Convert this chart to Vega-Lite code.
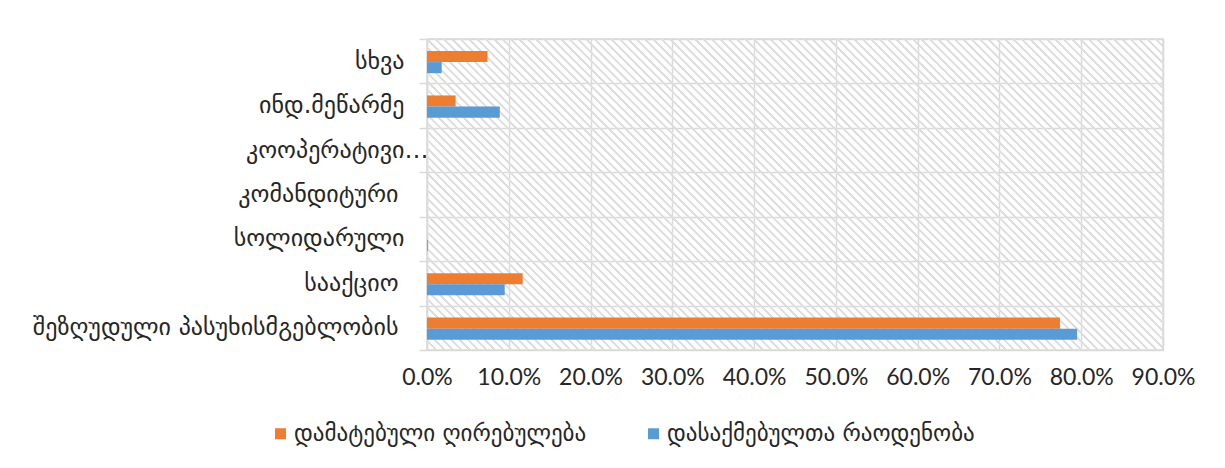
{
  "$schema": "https://vega.github.io/schema/vega-lite/v6.json",
  "width": 736,
  "height": 311,
  "autosize": "none",
  "padding": {"left": 427, "top": 39, "right": 62, "bottom": 118},
  "background": "white",
  "config": {
    "view": {"stroke": "#d9d9d9", "strokeWidth": 1.5, "fill": "white"},
    "axisX": {"title": null, "grid": true, "gridColor": "#d9d9d9", "gridWidth": 1.5, "domain": false, "ticks": false, "labelFont": "Lato", "labelFontSize": 23, "labelColor": "#262626", "labelPadding": 16, "labelFlush": false},
    "legend": {"labelFont": "DejaVu Sans", "labelFontSize": 23, "labelColor": "#262626", "labelLimit": 600}
  },
  "layer": [
    {
      "data": {"values": [{}]},
      "mark": {
        "type": "rect",
        "fill": {
          "gradient": "linear",
          "x1": 0, "y1": 1, "x2": 1.207, "y2": 0.49,
          "stops": [
{"offset":0.000,"color":"#ddd"},{"offset":0.002,"color":"#ddd"},{"offset":0.003,"color":"#fff0"},{"offset":0.007,"color":"#fff0"},
{"offset":0.008,"color":"#ddd"},{"offset":0.010,"color":"#ddd"},{"offset":0.011,"color":"#fff0"},{"offset":0.015,"color":"#fff0"},
{"offset":0.016,"color":"#ddd"},{"offset":0.018,"color":"#ddd"},{"offset":0.019,"color":"#fff0"},{"offset":0.023,"color":"#fff0"},
{"offset":0.024,"color":"#ddd"},{"offset":0.026,"color":"#ddd"},{"offset":0.027,"color":"#fff0"},{"offset":0.031,"color":"#fff0"},
{"offset":0.032,"color":"#ddd"},{"offset":0.034,"color":"#ddd"},{"offset":0.035,"color":"#fff0"},{"offset":0.039,"color":"#fff0"},
{"offset":0.040,"color":"#ddd"},{"offset":0.042,"color":"#ddd"},{"offset":0.043,"color":"#fff0"},{"offset":0.047,"color":"#fff0"},
{"offset":0.048,"color":"#ddd"},{"offset":0.050,"color":"#ddd"},{"offset":0.051,"color":"#fff0"},{"offset":0.055,"color":"#fff0"},
{"offset":0.056,"color":"#ddd"},{"offset":0.058,"color":"#ddd"},{"offset":0.059,"color":"#fff0"},{"offset":0.063,"color":"#fff0"},
{"offset":0.064,"color":"#ddd"},{"offset":0.066,"color":"#ddd"},{"offset":0.067,"color":"#fff0"},{"offset":0.071,"color":"#fff0"},
{"offset":0.072,"color":"#ddd"},{"offset":0.074,"color":"#ddd"},{"offset":0.075,"color":"#fff0"},{"offset":0.079,"color":"#fff0"},
{"offset":0.080,"color":"#ddd"},{"offset":0.082,"color":"#ddd"},{"offset":0.083,"color":"#fff0"},{"offset":0.087,"color":"#fff0"},
{"offset":0.088,"color":"#ddd"},{"offset":0.090,"color":"#ddd"},{"offset":0.091,"color":"#fff0"},{"offset":0.095,"color":"#fff0"},
{"offset":0.096,"color":"#ddd"},{"offset":0.098,"color":"#ddd"},{"offset":0.099,"color":"#fff0"},{"offset":0.103,"color":"#fff0"},
{"offset":0.104,"color":"#ddd"},{"offset":0.106,"color":"#ddd"},{"offset":0.107,"color":"#fff0"},{"offset":0.111,"color":"#fff0"},
{"offset":0.112,"color":"#ddd"},{"offset":0.114,"color":"#ddd"},{"offset":0.115,"color":"#fff0"},{"offset":0.119,"color":"#fff0"},
{"offset":0.120,"color":"#ddd"},{"offset":0.122,"color":"#ddd"},{"offset":0.123,"color":"#fff0"},{"offset":0.127,"color":"#fff0"},
{"offset":0.128,"color":"#ddd"},{"offset":0.130,"color":"#ddd"},{"offset":0.131,"color":"#fff0"},{"offset":0.135,"color":"#fff0"},
{"offset":0.136,"color":"#ddd"},{"offset":0.138,"color":"#ddd"},{"offset":0.139,"color":"#fff0"},{"offset":0.143,"color":"#fff0"},
{"offset":0.144,"color":"#ddd"},{"offset":0.146,"color":"#ddd"},{"offset":0.147,"color":"#fff0"},{"offset":0.151,"color":"#fff0"},
{"offset":0.152,"color":"#ddd"},{"offset":0.154,"color":"#ddd"},{"offset":0.155,"color":"#fff0"},{"offset":0.159,"color":"#fff0"},
{"offset":0.160,"color":"#ddd"},{"offset":0.162,"color":"#ddd"},{"offset":0.163,"color":"#fff0"},{"offset":0.167,"color":"#fff0"},
{"offset":0.168,"color":"#ddd"},{"offset":0.170,"color":"#ddd"},{"offset":0.171,"color":"#fff0"},{"offset":0.175,"color":"#fff0"},
{"offset":0.176,"color":"#ddd"},{"offset":0.178,"color":"#ddd"},{"offset":0.179,"color":"#fff0"},{"offset":0.183,"color":"#fff0"},
{"offset":0.184,"color":"#ddd"},{"offset":0.186,"color":"#ddd"},{"offset":0.187,"color":"#fff0"},{"offset":0.191,"color":"#fff0"},
{"offset":0.192,"color":"#ddd"},{"offset":0.194,"color":"#ddd"},{"offset":0.195,"color":"#fff0"},{"offset":0.199,"color":"#fff0"},
{"offset":0.200,"color":"#ddd"},{"offset":0.202,"color":"#ddd"},{"offset":0.203,"color":"#fff0"},{"offset":0.207,"color":"#fff0"},
{"offset":0.208,"color":"#ddd"},{"offset":0.210,"color":"#ddd"},{"offset":0.211,"color":"#fff0"},{"offset":0.215,"color":"#fff0"},
{"offset":0.216,"color":"#ddd"},{"offset":0.218,"color":"#ddd"},{"offset":0.219,"color":"#fff0"},{"offset":0.223,"color":"#fff0"},
{"offset":0.224,"color":"#ddd"},{"offset":0.226,"color":"#ddd"},{"offset":0.227,"color":"#fff0"},{"offset":0.231,"color":"#fff0"},
{"offset":0.232,"color":"#ddd"},{"offset":0.234,"color":"#ddd"},{"offset":0.235,"color":"#fff0"},{"offset":0.239,"color":"#fff0"},
{"offset":0.240,"color":"#ddd"},{"offset":0.242,"color":"#ddd"},{"offset":0.243,"color":"#fff0"},{"offset":0.247,"color":"#fff0"},
{"offset":0.248,"color":"#ddd"},{"offset":0.250,"color":"#ddd"},{"offset":0.251,"color":"#fff0"},{"offset":0.255,"color":"#fff0"},
{"offset":0.256,"color":"#ddd"},{"offset":0.258,"color":"#ddd"},{"offset":0.259,"color":"#fff0"},{"offset":0.263,"color":"#fff0"},
{"offset":0.264,"color":"#ddd"},{"offset":0.266,"color":"#ddd"},{"offset":0.267,"color":"#fff0"},{"offset":0.271,"color":"#fff0"},
{"offset":0.272,"color":"#ddd"},{"offset":0.274,"color":"#ddd"},{"offset":0.275,"color":"#fff0"},{"offset":0.279,"color":"#fff0"},
{"offset":0.280,"color":"#ddd"},{"offset":0.282,"color":"#ddd"},{"offset":0.283,"color":"#fff0"},{"offset":0.287,"color":"#fff0"},
{"offset":0.288,"color":"#ddd"},{"offset":0.290,"color":"#ddd"},{"offset":0.291,"color":"#fff0"},{"offset":0.295,"color":"#fff0"},
{"offset":0.296,"color":"#ddd"},{"offset":0.298,"color":"#ddd"},{"offset":0.299,"color":"#fff0"},{"offset":0.303,"color":"#fff0"},
{"offset":0.304,"color":"#ddd"},{"offset":0.306,"color":"#ddd"},{"offset":0.307,"color":"#fff0"},{"offset":0.311,"color":"#fff0"},
{"offset":0.312,"color":"#ddd"},{"offset":0.314,"color":"#ddd"},{"offset":0.315,"color":"#fff0"},{"offset":0.319,"color":"#fff0"},
{"offset":0.320,"color":"#ddd"},{"offset":0.322,"color":"#ddd"},{"offset":0.323,"color":"#fff0"},{"offset":0.327,"color":"#fff0"},
{"offset":0.328,"color":"#ddd"},{"offset":0.330,"color":"#ddd"},{"offset":0.331,"color":"#fff0"},{"offset":0.335,"color":"#fff0"},
{"offset":0.336,"color":"#ddd"},{"offset":0.338,"color":"#ddd"},{"offset":0.339,"color":"#fff0"},{"offset":0.343,"color":"#fff0"},
{"offset":0.344,"color":"#ddd"},{"offset":0.346,"color":"#ddd"},{"offset":0.347,"color":"#fff0"},{"offset":0.351,"color":"#fff0"},
{"offset":0.352,"color":"#ddd"},{"offset":0.354,"color":"#ddd"},{"offset":0.355,"color":"#fff0"},{"offset":0.359,"color":"#fff0"},
{"offset":0.360,"color":"#ddd"},{"offset":0.362,"color":"#ddd"},{"offset":0.363,"color":"#fff0"},{"offset":0.367,"color":"#fff0"},
{"offset":0.368,"color":"#ddd"},{"offset":0.370,"color":"#ddd"},{"offset":0.371,"color":"#fff0"},{"offset":0.375,"color":"#fff0"},
{"offset":0.376,"color":"#ddd"},{"offset":0.378,"color":"#ddd"},{"offset":0.379,"color":"#fff0"},{"offset":0.383,"color":"#fff0"},
{"offset":0.384,"color":"#ddd"},{"offset":0.386,"color":"#ddd"},{"offset":0.387,"color":"#fff0"},{"offset":0.391,"color":"#fff0"},
{"offset":0.392,"color":"#ddd"},{"offset":0.394,"color":"#ddd"},{"offset":0.395,"color":"#fff0"},{"offset":0.399,"color":"#fff0"},
{"offset":0.400,"color":"#ddd"},{"offset":0.402,"color":"#ddd"},{"offset":0.403,"color":"#fff0"},{"offset":0.407,"color":"#fff0"},
{"offset":0.408,"color":"#ddd"},{"offset":0.410,"color":"#ddd"},{"offset":0.411,"color":"#fff0"},{"offset":0.415,"color":"#fff0"},
{"offset":0.416,"color":"#ddd"},{"offset":0.418,"color":"#ddd"},{"offset":0.419,"color":"#fff0"},{"offset":0.423,"color":"#fff0"},
{"offset":0.424,"color":"#ddd"},{"offset":0.426,"color":"#ddd"},{"offset":0.427,"color":"#fff0"},{"offset":0.431,"color":"#fff0"},
{"offset":0.432,"color":"#ddd"},{"offset":0.434,"color":"#ddd"},{"offset":0.435,"color":"#fff0"},{"offset":0.439,"color":"#fff0"},
{"offset":0.440,"color":"#ddd"},{"offset":0.442,"color":"#ddd"},{"offset":0.443,"color":"#fff0"},{"offset":0.447,"color":"#fff0"},
{"offset":0.448,"color":"#ddd"},{"offset":0.450,"color":"#ddd"},{"offset":0.451,"color":"#fff0"},{"offset":0.455,"color":"#fff0"},
{"offset":0.456,"color":"#ddd"},{"offset":0.458,"color":"#ddd"},{"offset":0.459,"color":"#fff0"},{"offset":0.463,"color":"#fff0"},
{"offset":0.464,"color":"#ddd"},{"offset":0.466,"color":"#ddd"},{"offset":0.467,"color":"#fff0"},{"offset":0.471,"color":"#fff0"},
{"offset":0.472,"color":"#ddd"},{"offset":0.474,"color":"#ddd"},{"offset":0.475,"color":"#fff0"},{"offset":0.479,"color":"#fff0"},
{"offset":0.480,"color":"#ddd"},{"offset":0.482,"color":"#ddd"},{"offset":0.483,"color":"#fff0"},{"offset":0.487,"color":"#fff0"},
{"offset":0.488,"color":"#ddd"},{"offset":0.490,"color":"#ddd"},{"offset":0.491,"color":"#fff0"},{"offset":0.495,"color":"#fff0"},
{"offset":0.496,"color":"#ddd"},{"offset":0.498,"color":"#ddd"},{"offset":0.499,"color":"#fff0"},{"offset":0.503,"color":"#fff0"},
{"offset":0.504,"color":"#ddd"},{"offset":0.506,"color":"#ddd"},{"offset":0.507,"color":"#fff0"},{"offset":0.511,"color":"#fff0"},
{"offset":0.512,"color":"#ddd"},{"offset":0.514,"color":"#ddd"},{"offset":0.515,"color":"#fff0"},{"offset":0.519,"color":"#fff0"},
{"offset":0.520,"color":"#ddd"},{"offset":0.522,"color":"#ddd"},{"offset":0.523,"color":"#fff0"},{"offset":0.527,"color":"#fff0"},
{"offset":0.528,"color":"#ddd"},{"offset":0.530,"color":"#ddd"},{"offset":0.531,"color":"#fff0"},{"offset":0.535,"color":"#fff0"},
{"offset":0.536,"color":"#ddd"},{"offset":0.538,"color":"#ddd"},{"offset":0.539,"color":"#fff0"},{"offset":0.543,"color":"#fff0"},
{"offset":0.544,"color":"#ddd"},{"offset":0.546,"color":"#ddd"},{"offset":0.547,"color":"#fff0"},{"offset":0.551,"color":"#fff0"},
{"offset":0.552,"color":"#ddd"},{"offset":0.554,"color":"#ddd"},{"offset":0.555,"color":"#fff0"},{"offset":0.559,"color":"#fff0"},
{"offset":0.560,"color":"#ddd"},{"offset":0.562,"color":"#ddd"},{"offset":0.563,"color":"#fff0"},{"offset":0.567,"color":"#fff0"},
{"offset":0.568,"color":"#ddd"},{"offset":0.570,"color":"#ddd"},{"offset":0.571,"color":"#fff0"},{"offset":0.575,"color":"#fff0"},
{"offset":0.576,"color":"#ddd"},{"offset":0.578,"color":"#ddd"},{"offset":0.579,"color":"#fff0"},{"offset":0.583,"color":"#fff0"},
{"offset":0.584,"color":"#ddd"},{"offset":0.586,"color":"#ddd"},{"offset":0.587,"color":"#fff0"},{"offset":0.591,"color":"#fff0"},
{"offset":0.592,"color":"#ddd"},{"offset":0.594,"color":"#ddd"},{"offset":0.595,"color":"#fff0"},{"offset":0.599,"color":"#fff0"},
{"offset":0.600,"color":"#ddd"},{"offset":0.602,"color":"#ddd"},{"offset":0.603,"color":"#fff0"},{"offset":0.607,"color":"#fff0"},
{"offset":0.608,"color":"#ddd"},{"offset":0.610,"color":"#ddd"},{"offset":0.611,"color":"#fff0"},{"offset":0.615,"color":"#fff0"},
{"offset":0.616,"color":"#ddd"},{"offset":0.618,"color":"#ddd"},{"offset":0.619,"color":"#fff0"},{"offset":0.623,"color":"#fff0"},
{"offset":0.624,"color":"#ddd"},{"offset":0.626,"color":"#ddd"},{"offset":0.627,"color":"#fff0"},{"offset":0.631,"color":"#fff0"},
{"offset":0.632,"color":"#ddd"},{"offset":0.634,"color":"#ddd"},{"offset":0.635,"color":"#fff0"},{"offset":0.639,"color":"#fff0"},
{"offset":0.640,"color":"#ddd"},{"offset":0.642,"color":"#ddd"},{"offset":0.643,"color":"#fff0"},{"offset":0.647,"color":"#fff0"},
{"offset":0.648,"color":"#ddd"},{"offset":0.650,"color":"#ddd"},{"offset":0.651,"color":"#fff0"},{"offset":0.655,"color":"#fff0"},
{"offset":0.656,"color":"#ddd"},{"offset":0.658,"color":"#ddd"},{"offset":0.659,"color":"#fff0"},{"offset":0.663,"color":"#fff0"},
{"offset":0.664,"color":"#ddd"},{"offset":0.666,"color":"#ddd"},{"offset":0.667,"color":"#fff0"},{"offset":0.671,"color":"#fff0"},
{"offset":0.672,"color":"#ddd"},{"offset":0.674,"color":"#ddd"},{"offset":0.675,"color":"#fff0"},{"offset":0.679,"color":"#fff0"},
{"offset":0.680,"color":"#ddd"},{"offset":0.682,"color":"#ddd"},{"offset":0.683,"color":"#fff0"},{"offset":0.687,"color":"#fff0"},
{"offset":0.688,"color":"#ddd"},{"offset":0.690,"color":"#ddd"},{"offset":0.691,"color":"#fff0"},{"offset":0.695,"color":"#fff0"},
{"offset":0.696,"color":"#ddd"},{"offset":0.698,"color":"#ddd"},{"offset":0.699,"color":"#fff0"},{"offset":0.703,"color":"#fff0"},
{"offset":0.704,"color":"#ddd"},{"offset":0.706,"color":"#ddd"},{"offset":0.707,"color":"#fff0"},{"offset":0.711,"color":"#fff0"},
{"offset":0.712,"color":"#ddd"},{"offset":0.714,"color":"#ddd"},{"offset":0.715,"color":"#fff0"},{"offset":0.719,"color":"#fff0"},
{"offset":0.720,"color":"#ddd"},{"offset":0.722,"color":"#ddd"},{"offset":0.723,"color":"#fff0"},{"offset":0.727,"color":"#fff0"},
{"offset":0.728,"color":"#ddd"},{"offset":0.730,"color":"#ddd"},{"offset":0.731,"color":"#fff0"},{"offset":0.735,"color":"#fff0"},
{"offset":0.736,"color":"#ddd"},{"offset":0.738,"color":"#ddd"},{"offset":0.739,"color":"#fff0"},{"offset":0.743,"color":"#fff0"},
{"offset":0.744,"color":"#ddd"},{"offset":0.746,"color":"#ddd"},{"offset":0.747,"color":"#fff0"},{"offset":0.751,"color":"#fff0"},
{"offset":0.752,"color":"#ddd"},{"offset":0.754,"color":"#ddd"},{"offset":0.755,"color":"#fff0"},{"offset":0.759,"color":"#fff0"},
{"offset":0.760,"color":"#ddd"},{"offset":0.762,"color":"#ddd"},{"offset":0.763,"color":"#fff0"},{"offset":0.767,"color":"#fff0"},
{"offset":0.768,"color":"#ddd"},{"offset":0.770,"color":"#ddd"},{"offset":0.771,"color":"#fff0"},{"offset":0.775,"color":"#fff0"},
{"offset":0.776,"color":"#ddd"},{"offset":0.778,"color":"#ddd"},{"offset":0.779,"color":"#fff0"},{"offset":0.783,"color":"#fff0"},
{"offset":0.784,"color":"#ddd"},{"offset":0.786,"color":"#ddd"},{"offset":0.787,"color":"#fff0"},{"offset":0.791,"color":"#fff0"},
{"offset":0.792,"color":"#ddd"},{"offset":0.794,"color":"#ddd"},{"offset":0.795,"color":"#fff0"},{"offset":0.799,"color":"#fff0"},
{"offset":0.800,"color":"#ddd"},{"offset":0.802,"color":"#ddd"},{"offset":0.803,"color":"#fff0"},{"offset":0.807,"color":"#fff0"},
{"offset":0.808,"color":"#ddd"},{"offset":0.810,"color":"#ddd"},{"offset":0.811,"color":"#fff0"},{"offset":0.815,"color":"#fff0"},
{"offset":0.816,"color":"#ddd"},{"offset":0.818,"color":"#ddd"},{"offset":0.819,"color":"#fff0"},{"offset":0.823,"color":"#fff0"},
{"offset":0.824,"color":"#ddd"},{"offset":0.826,"color":"#ddd"},{"offset":0.827,"color":"#fff0"},{"offset":0.831,"color":"#fff0"},
{"offset":0.832,"color":"#ddd"},{"offset":0.834,"color":"#ddd"},{"offset":0.835,"color":"#fff0"},{"offset":0.839,"color":"#fff0"},
{"offset":0.840,"color":"#ddd"},{"offset":0.842,"color":"#ddd"},{"offset":0.843,"color":"#fff0"},{"offset":0.847,"color":"#fff0"},
{"offset":0.848,"color":"#ddd"},{"offset":0.850,"color":"#ddd"},{"offset":0.851,"color":"#fff0"},{"offset":0.855,"color":"#fff0"},
{"offset":0.856,"color":"#ddd"},{"offset":0.858,"color":"#ddd"},{"offset":0.859,"color":"#fff0"},{"offset":0.863,"color":"#fff0"},
{"offset":0.864,"color":"#ddd"},{"offset":0.866,"color":"#ddd"},{"offset":0.867,"color":"#fff0"},{"offset":0.871,"color":"#fff0"},
{"offset":0.872,"color":"#ddd"},{"offset":0.874,"color":"#ddd"},{"offset":0.875,"color":"#fff0"},{"offset":0.879,"color":"#fff0"},
{"offset":0.880,"color":"#ddd"},{"offset":0.882,"color":"#ddd"},{"offset":0.883,"color":"#fff0"},{"offset":0.887,"color":"#fff0"},
{"offset":0.888,"color":"#ddd"},{"offset":0.890,"color":"#ddd"},{"offset":0.891,"color":"#fff0"},{"offset":0.895,"color":"#fff0"},
{"offset":0.896,"color":"#ddd"},{"offset":0.898,"color":"#ddd"},{"offset":0.899,"color":"#fff0"},{"offset":0.903,"color":"#fff0"},
{"offset":0.904,"color":"#ddd"},{"offset":0.906,"color":"#ddd"},{"offset":0.907,"color":"#fff0"},{"offset":0.911,"color":"#fff0"},
{"offset":0.912,"color":"#ddd"},{"offset":0.914,"color":"#ddd"},{"offset":0.915,"color":"#fff0"},{"offset":0.919,"color":"#fff0"},
{"offset":0.920,"color":"#ddd"},{"offset":0.922,"color":"#ddd"},{"offset":0.923,"color":"#fff0"},{"offset":0.927,"color":"#fff0"},
{"offset":0.928,"color":"#ddd"},{"offset":0.930,"color":"#ddd"},{"offset":0.931,"color":"#fff0"},{"offset":0.935,"color":"#fff0"},
{"offset":0.936,"color":"#ddd"},{"offset":0.938,"color":"#ddd"},{"offset":0.939,"color":"#fff0"},{"offset":0.943,"color":"#fff0"},
{"offset":0.944,"color":"#ddd"},{"offset":0.946,"color":"#ddd"},{"offset":0.947,"color":"#fff0"},{"offset":0.951,"color":"#fff0"},
{"offset":0.952,"color":"#ddd"},{"offset":0.954,"color":"#ddd"},{"offset":0.955,"color":"#fff0"},{"offset":0.959,"color":"#fff0"},
{"offset":0.960,"color":"#ddd"},{"offset":0.962,"color":"#ddd"},{"offset":0.963,"color":"#fff0"},{"offset":0.967,"color":"#fff0"},
{"offset":0.968,"color":"#ddd"},{"offset":0.970,"color":"#ddd"},{"offset":0.971,"color":"#fff0"},{"offset":0.975,"color":"#fff0"},
{"offset":0.976,"color":"#ddd"},{"offset":0.978,"color":"#ddd"},{"offset":0.979,"color":"#fff0"},{"offset":0.983,"color":"#fff0"},
{"offset":0.984,"color":"#ddd"},{"offset":0.986,"color":"#ddd"},{"offset":0.987,"color":"#fff0"},{"offset":0.991,"color":"#fff0"},
{"offset":0.992,"color":"#ddd"},{"offset":0.994,"color":"#ddd"},{"offset":0.995,"color":"#fff0"},{"offset":0.999,"color":"#fff0"}
          ]
        }
      },
      "encoding": {
        "x": {"datum": 0, "type": "quantitative"},
        "x2": {"datum": 0.9}
      }
    },
    {
      "data": {
        "values": [
          {"cat": "სხვა", "series": "დამატებული ღირებულება", "value": 0.074},
          {"cat": "სხვა", "series": "დასაქმებულთა რაოდენობა", "value": 0.018},
          {"cat": "ინდ.მეწარმე", "series": "დამატებული ღირებულება", "value": 0.035},
          {"cat": "ინდ.მეწარმე", "series": "დასაქმებულთა რაოდენობა", "value": 0.089},
          {"cat": "კოოპერატივი…", "series": "დამატებული ღირებულება", "value": 0},
          {"cat": "კოოპერატივი…", "series": "დასაქმებულთა რაოდენობა", "value": 0},
          {"cat": "კომანდიტური", "series": "დამატებული ღირებულება", "value": 0},
          {"cat": "კომანდიტური", "series": "დასაქმებულთა რაოდენობა", "value": 0},
          {"cat": "სოლიდარული", "series": "დამატებული ღირებულება", "value": 0},
          {"cat": "სოლიდარული", "series": "დასაქმებულთა რაოდენობა", "value": 0.001},
          {"cat": "სააქციო", "series": "დამატებული ღირებულება", "value": 0.117},
          {"cat": "სააქციო", "series": "დასაქმებულთა რაოდენობა", "value": 0.095},
          {"cat": "შეზღუდული პასუხისმგებლობის", "series": "დამატებული ღირებულება", "value": 0.774},
          {"cat": "შეზღუდული პასუხისმგებლობის", "series": "დასაქმებულთა რაოდენობა", "value": 0.795}
        ]
      },
      "mark": {"type": "bar"},
      "encoding": {
        "y": {
          "field": "cat", "type": "nominal", "sort": null,
          "scale": {"paddingInner": 0, "paddingOuter": 0},
          "axis": {
            "title": null, "tickBand": "extent", "grid": true, "gridColor": "#d9d9d9", "gridWidth": 1.5,
            "domain": true, "domainColor": "#d9d9d9", "domainWidth": 1.5,
            "ticks": true, "tickSize": 8, "tickColor": "#d9d9d9", "tickWidth": 1.5,
            "labelFont": "DejaVu Sans", "labelFontSize": 24, "labelColor": "#262626", "labelLimit": 500,
            "labelPadding": {
              "condition": [
                {"test": "datum.value === 'კოოპერატივი…'", "value": -9},
                {"test": "datum.value === 'კომანდიტური' || datum.value === 'სააქციო' || datum.value === 'შეზღუდული პასუხისმგებლობის'", "value": 21}
              ],
              "value": 15
            }
          }
        },
        "yOffset": {
          "field": "series", "type": "nominal",
          "sort": ["დამატებული ღირებულება", "დასაქმებულთა რაოდენობა"],
          "scale": {"paddingInner": 0, "paddingOuter": 1.34, "align": 0.54}
        },
        "x": {
          "field": "value", "type": "quantitative",
          "scale": {"domain": [0, 0.9], "nice": false},
          "axis": {"format": ".1%", "values": [0, 0.1, 0.2, 0.3, 0.4, 0.5, 0.6, 0.7, 0.8, 0.9]}
        },
        "color": {
          "field": "series", "type": "nominal",
          "scale": {"domain": ["დამატებული ღირებულება", "დასაქმებულთა რაოდენობა"], "range": ["#ED7D31", "#5B9BD5"]},
          "legend": {
            "title": null, "orient": "none", "direction": "horizontal", "legendX": -158, "legendY": 383,
            "symbolType": "square", "symbolSize": 121, "symbolStrokeWidth": 0, "labelOffset": 2, "columnPadding": 55
          }
        }
      }
    }
  ]
}
